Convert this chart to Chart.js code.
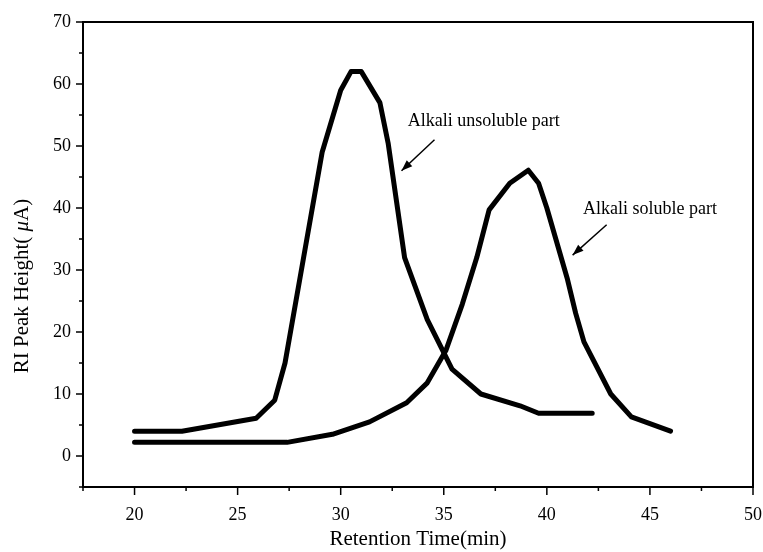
<!DOCTYPE html>
<html>
<head>
<meta charset="utf-8">
<script src="https://cdn.jsdelivr.net/npm/chart.js@4"></script>
<style>
  html, body { margin: 0; padding: 0; background: #fff; }
  #wrap { width: 763px; height: 552px; }
</style>
</head>
<body>
<div id="wrap"><canvas id="c" width="763" height="552"></canvas></div>
<script>
// ---- data ----
const unsolubleX = [20, 22.3, 25.9, 26.8, 27.3, 28.2, 29.1, 30.0, 30.5, 31.0, 31.9, 32.3, 33.1, 34.2, 35.4, 36.8, 38.7, 39.6, 42.2];
const unsolubleY = [4.0, 4.0, 6.1, 9.0, 15.0, 32.0, 49.0, 59.0, 62.0, 62.0, 57.0, 50.5, 32.0, 22.0, 14.0, 10.0, 8.1, 6.9, 6.9];
const solubleX = [20, 27.4, 29.6, 31.4, 33.2, 34.2, 35.1, 35.9, 36.6, 37.2, 38.2, 39.1, 39.6, 40.0, 41.0, 41.4, 41.8, 43.1, 44.1, 46.0];
const solubleY = [2.2, 2.2, 3.5, 5.5, 8.6, 11.8, 17.0, 24.5, 32.0, 39.7, 44.0, 46.1, 44.0, 40.0, 28.5, 23.0, 18.4, 10.0, 6.3, 4.0];
const xTickLabels = [20, 25, 30, 35, 40, 45, 50];
const yTickLabels = [0, 10, 20, 30, 40, 50, 60, 70];
const seriesNames = ['Alkali unsoluble part', 'Alkali soluble part'];
const xTitle = 'Retention Time(min)';
const yTitleParts = ['RI Peak Height( ', '\u03bc', 'A)'];

// annotation placement (data coordinates)
const notes = [
  { text: seriesNames[0], tx: 33.25, ty: 54.0, ax1: 34.55, ay1: 51.0, ax2: 32.95, ay2: 46.0 },
  { text: seriesNames[1], tx: 41.75, ty: 39.8, ax1: 42.9, ay1: 37.3, ax2: 41.25, ay2: 32.4 }
];

const FONT = '"Liberation Serif", "Times New Roman", serif';

function pts(xs, ys) { return xs.map((x, i) => ({ x: x, y: ys[i] })); }

const decor = {
  id: 'decor',
  afterDraw(chart) {
    const ctx = chart.ctx;
    const a = chart.chartArea;
    const xs = chart.scales.x, ys = chart.scales.y;
    ctx.save();
    ctx.strokeStyle = '#000';
    // frame
    ctx.lineWidth = 2;
    ctx.strokeRect(a.left, a.top, a.right - a.left, a.bottom - a.top);
    // tick marks
    ctx.lineWidth = 1.5;
    xs.ticks.forEach(t => {
      const px = xs.getPixelForValue(t.value);
      const len = xTickLabels.includes(t.value) ? 8 : 4;
      ctx.beginPath(); ctx.moveTo(px, a.bottom); ctx.lineTo(px, a.bottom + len); ctx.stroke();
    });
    ys.ticks.forEach(t => {
      const py = ys.getPixelForValue(t.value);
      const len = yTickLabels.includes(t.value) ? 7 : 4;
      ctx.beginPath(); ctx.moveTo(a.left, py); ctx.lineTo(a.left - len, py); ctx.stroke();
    });
    // annotations
    ctx.fillStyle = '#000';
    ctx.font = '18px ' + FONT;
    ctx.textBaseline = 'middle';
    ctx.textAlign = 'left';
    notes.forEach(n => {
      ctx.fillText(n.text, xs.getPixelForValue(n.tx), ys.getPixelForValue(n.ty));
      const x1 = xs.getPixelForValue(n.ax1), y1 = ys.getPixelForValue(n.ay1);
      const x2 = xs.getPixelForValue(n.ax2), y2 = ys.getPixelForValue(n.ay2);
      ctx.lineWidth = 1.5;
      ctx.beginPath(); ctx.moveTo(x1, y1); ctx.lineTo(x2, y2); ctx.stroke();
      const ang = Math.atan2(y2 - y1, x2 - x1);
      const L = 11, W = 4;
      ctx.beginPath();
      ctx.moveTo(x2, y2);
      ctx.lineTo(x2 - L * Math.cos(ang) + W * Math.sin(ang), y2 - L * Math.sin(ang) - W * Math.cos(ang));
      ctx.lineTo(x2 - L * Math.cos(ang) - W * Math.sin(ang), y2 - L * Math.sin(ang) + W * Math.cos(ang));
      ctx.closePath(); ctx.fill();
    });
    // y axis title
    ctx.translate(22, 286);
    ctx.rotate(-Math.PI / 2);
    const fonts = ['21px ' + FONT, 'italic 21px ' + FONT, '21px ' + FONT];
    let widths = yTitleParts.map((s, i) => { ctx.font = fonts[i]; return ctx.measureText(s).width; });
    let total = widths.reduce((p, c) => p + c, 0);
    let cx = -total / 2;
    yTitleParts.forEach((s, i) => { ctx.font = fonts[i]; ctx.fillText(s, cx, 0); cx += widths[i]; });
    ctx.restore();
  }
};

new Chart(document.getElementById('c'), {
  type: 'line',
  data: {
    datasets: [
      { label: seriesNames[0], data: pts(unsolubleX, unsolubleY) },
      { label: seriesNames[1], data: pts(solubleX, solubleY) }
    ]
  },
  options: {
    responsive: false,
    devicePixelRatio: 1,
    animation: false,
    layout: { padding: { top: 22, right: 10, left: 0, bottom: 0 } },
    elements: {
      line: { borderColor: '#000', borderWidth: 5, tension: 0, borderCapStyle: 'round', borderJoinStyle: 'round', fill: false },
      point: { radius: 0, hoverRadius: 0 }
    },
    plugins: { legend: { display: false }, tooltip: { enabled: false } },
    scales: {
      x: {
        type: 'linear', min: 17.5, max: 50,
        grid: { display: false, drawTicks: false },
        border: { display: false },
        ticks: {
          stepSize: 2.5, autoSkip: false, maxRotation: 0, padding: 17,
          color: '#000', font: { family: FONT, size: 18 },
          callback: v => xTickLabels.includes(v) ? String(v) : ''
        },
        title: { display: true, text: xTitle, color: '#000', font: { family: FONT, size: 21 }, padding: { top: 0, bottom: 0 } },
        afterFit: s => { s.height = 65; s.paddingLeft = 0; s.paddingRight = 0; }
      },
      y: {
        type: 'linear', min: -5, max: 70,
        grid: { display: false, drawTicks: false },
        border: { display: false },
        ticks: {
          stepSize: 5, autoSkip: false, padding: 12,
          color: '#000', font: { family: FONT, size: 18 },
          callback: v => yTickLabels.includes(v) ? String(v) : ''
        },
        afterFit: s => { s.width = 83; s.paddingTop = 0; s.paddingBottom = 0; }
      }
    }
  },
  plugins: [decor]
});
</script>
</body>
</html>
